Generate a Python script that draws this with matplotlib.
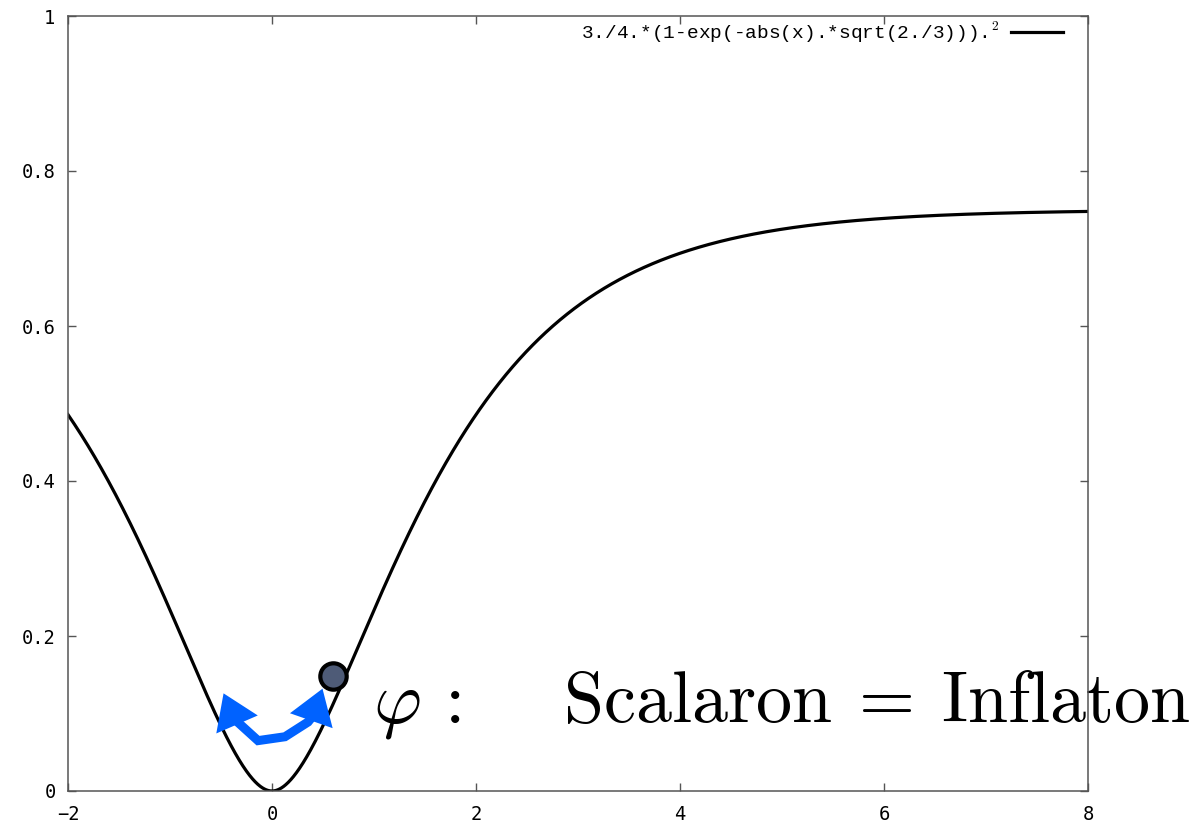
import matplotlib
matplotlib.use("Agg")
import matplotlib.pyplot as plt
import numpy as np
from matplotlib.patches import FancyArrowPatch
from matplotlib.path import Path

plt.rcParams["mathtext.fontset"] = "cm"

# potential V(x) = A * (1 - exp(-|x| * k))^2, as given in the legend
A = 3.0 / 4.0
K = np.sqrt(2.0 / 3.0)
X_MIN, X_MAX = -2, 8
x = np.linspace(X_MIN, X_MAX, 2001)
v = A * (1 - np.exp(-np.abs(x) * K)) ** 2

x_ticks = [-2, 0, 2, 4, 6, 8]
x_labels = ["\u22122", "0", "2", "4", "6", "8"]
y_ticks = [0, 0.2, 0.4, 0.6, 0.8, 1.0]
y_labels = ["0", "0.2", "0.4", "0.6", "0.8", "1"]

# oscillation arrow (data units) and the field "ball"
arrow_x = [-0.475, -0.363, -0.137, 0.127, 0.353, 0.402, 0.495]
arrow_y = [0.126, 0.092, 0.065, 0.070, 0.089, 0.097, 0.132]
ball_x, ball_y = 0.598, 0.148

legend_label = "3./4.*(1-exp(-abs(x).*sqrt(2./3)))." + r"$^{\mathtt{2}}$"

fig = plt.figure(figsize=(11.98, 8.23), dpi=100)
ax = fig.add_axes([68 / 1198, 32 / 823, 1020 / 1198, 775 / 823])

ax.plot(x, v, color="black", lw=2.3, label=legend_label, zorder=3)

ax.set_xlim(X_MIN, X_MAX)
ax.set_ylim(0, 1)
ax.set_xticks(x_ticks)
ax.set_xticklabels(x_labels)
ax.set_yticks(y_ticks)
ax.set_yticklabels(y_labels)

for s in ax.spines.values():
    s.set_color("#555555")
    s.set_linewidth(1.1)
    s.set_zorder(4)
ax.tick_params(direction="in", length=6, width=1.0, color="#555555",
               top=True, right=True, labelsize=13.5)
ax.tick_params(axis="y", pad=9)
ax.tick_params(axis="x", pad=10)
for lab in ax.get_xticklabels() + ax.get_yticklabels():
    lab.set_fontfamily("DejaVu Sans Mono")

leg = ax.legend(loc="upper right", bbox_to_anchor=(1 - 25 / 1020, 1 - 4 / 775),
                frameon=False, borderaxespad=0, borderpad=0,
                handlelength=2.7, handletextpad=0.55, markerfirst=False,
                prop={"family": "Liberation Mono", "size": 14})

arr = FancyArrowPatch(path=Path(list(zip(arrow_x, arrow_y))),
                      arrowstyle="<|-|>,head_length=0.45,head_width=0.3",
                      mutation_scale=34, color="#0062ff", lw=6.5,
                      shrinkA=0, shrinkB=0,
                      joinstyle="miter", capstyle="butt", zorder=5)
ax.add_patch(arr)

ax.plot([ball_x], [ball_y], "o", ms=19, mfc="#4e5b77", mec="black",
        mew=3.0, zorder=6)

ax.text(0.99, 0.089, r"$\varphi\,:$", fontsize=53, va="baseline",
        ha="left", zorder=1)
ax.text(2.853, 0.089, r"$\mathrm{Scalaron}\:=\:\mathrm{Inflaton}$",
        fontsize=52, va="baseline", ha="left", zorder=1, clip_on=False)

fig.savefig("out.png", dpi=100)
